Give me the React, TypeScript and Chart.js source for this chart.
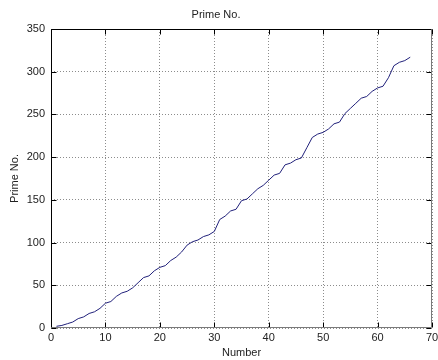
import React, { useEffect, useRef } from "react";
import { Chart, registerables } from "chart.js";

Chart.register(...registerables);

const numbers = [
  1, 2, 3, 4, 5, 6, 7, 8, 9, 10, 11, 12, 13, 14, 15, 16, 17, 18, 19, 20, 21, 22,
  23, 24, 25, 26, 27, 28, 29, 30, 31, 32, 33, 34, 35, 36, 37, 38, 39, 40, 41, 42,
  43, 44, 45, 46, 47, 48, 49, 50, 51, 52, 53, 54, 55, 56, 57, 58, 59, 60, 61, 62,
  63, 64, 65, 66,
];
const primes = [
  2, 3, 5, 7, 11, 13, 17, 19, 23, 29, 31, 37, 41, 43, 47, 53, 59, 61, 67, 71, 73,
  79, 83, 89, 97, 101, 103, 107, 109, 113, 127, 131, 137, 139, 149, 151, 157, 163,
  167, 173, 179, 181, 191, 193, 197, 199, 211, 223, 227, 229, 233, 239, 241, 251,
  257, 263, 269, 271, 277, 281, 283, 293, 307, 311, 313, 317,
];
const xTicks = [0, 10, 20, 30, 40, 50, 60, 70];
const yTicks = [0, 50, 100, 150, 200, 250, 300, 350];
const titleText = "Prime No.";
const xLabel = "Number";
const yLabel = "Prime No.";

const FONT = "'Liberation Sans', Arial, Helvetica, sans-serif";
const TEXT = "#222222";

const boxPlugin = {
  id: "matlabBox",
  afterDatasetsDraw(chart: any) {
    const { ctx, chartArea } = chart;
    const { left, right, top, bottom } = chartArea;
    const xs = chart.scales.x;
    const ys = chart.scales.y;
    const L = Math.round(left) + 0.5;
    const R = Math.round(right) - 0.5;
    const T = Math.round(top) + 0.5;
    const B = Math.round(bottom) - 0.5;
    const tl = 5;
    ctx.save();
    ctx.lineWidth = 1;
    ctx.setLineDash([]);
    ctx.strokeStyle = "#000";
    ctx.beginPath();
    xTicks.forEach((v) => {
      const p = Math.round(xs.getPixelForValue(v)) + 0.5;
      ctx.moveTo(p, B);
      ctx.lineTo(p, B - tl);
      ctx.moveTo(p, T);
      ctx.lineTo(p, T + tl);
    });
    yTicks.forEach((v) => {
      const p = Math.round(ys.getPixelForValue(v)) + 0.5;
      ctx.moveTo(L, p);
      ctx.lineTo(L + tl, p);
      ctx.moveTo(R, p);
      ctx.lineTo(R - tl, p);
    });
    ctx.stroke();
    ctx.strokeStyle = "#000";
    ctx.beginPath();
    ctx.moveTo(L, B);
    ctx.lineTo(L, T);
    ctx.lineTo(R, T);
    ctx.stroke();
    ctx.strokeStyle = "#7a7a7a";
    ctx.beginPath();
    ctx.moveTo(R, T);
    ctx.lineTo(R, B);
    ctx.lineTo(L, B);
    ctx.stroke();
    ctx.restore();
  },
};

export default function App() {
  const canvasRef = useRef<HTMLCanvasElement | null>(null);

  useEffect(() => {
    const canvas = canvasRef.current;
    if (!canvas) return;
    const chart = new Chart(canvas, {
      type: "line",
      data: {
        datasets: [
          {
            data: numbers.map((n, i) => ({ x: n, y: primes[i] })),
            borderColor: "#20207a",
            borderWidth: 1,
            pointRadius: 0,
            tension: 0,
            fill: false,
          },
        ],
      },
      options: {
        animation: false,
        responsive: true,
        maintainAspectRatio: false,
        devicePixelRatio: 1,
        layout: { padding: { left: 0, right: 6, top: 0, bottom: 0 } },
        plugins: {
          legend: { display: false },
          tooltip: { enabled: false },
          title: {
            display: true,
            text: titleText,
            color: TEXT,
            font: { family: FONT, size: 11, weight: "normal" },
            padding: { top: 8, bottom: 7.8 },
          },
        },
        scales: {
          x: {
            type: "linear",
            min: 0,
            max: 70,
            afterBuildTicks: (s: any) => {
              s.ticks = xTicks.map((v) => ({ value: v }));
            },
            afterFit: (s: any) => {
              s.height = 32;
              s.paddingLeft = 0;
              s.paddingRight = 0;
            },
            grid: {
              color: "rgba(0,0,0,0.45)",
              lineWidth: 1,
              drawTicks: false,
            },
            border: { display: false, dash: [1, 2] },
            ticks: {
              color: TEXT,
              font: { family: FONT, size: 11 },
              padding: 3.5,
              maxRotation: 0,
              autoSkip: false,
            },
            title: {
              display: true,
              text: xLabel,
              color: TEXT,
              font: { family: FONT, size: 11 },
              padding: { top: 0, bottom: 0.5 },
            },
          },
          y: {
            type: "linear",
            min: 0,
            max: 350,
            afterBuildTicks: (s: any) => {
              s.ticks = yTicks.map((v) => ({ value: v }));
            },
            afterFit: (s: any) => {
              s.width = 51;
              s.paddingTop = 0;
              s.paddingBottom = 0;
            },
            grid: {
              color: "rgba(0,0,0,0.45)",
              lineWidth: 1,
              drawTicks: false,
            },
            border: { display: false, dash: [1, 2] },
            ticks: {
              color: TEXT,
              font: { family: FONT, size: 11 },
              padding: 6,
              autoSkip: false,
            },
            title: {
              display: true,
              text: yLabel,
              color: TEXT,
              font: { family: FONT, size: 11 },
              padding: { top: 8.4, bottom: 0 },
            },
          },
        },
      },
      plugins: [boxPlugin],
    });
    return () => chart.destroy();
  }, []);

  return (
    <div
      style={{
        position: "fixed",
        left: 0,
        top: 0,
        width: 438,
        height: 360,
        background: "#fff",
      }}
    >
      <canvas ref={canvasRef} />
    </div>
  );
}
